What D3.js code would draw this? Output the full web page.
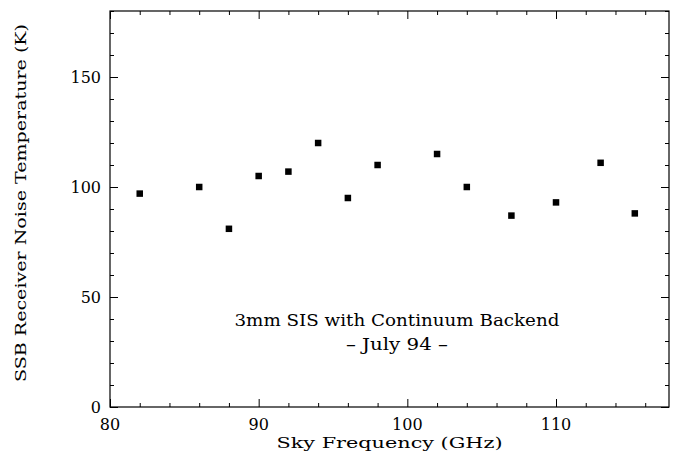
<!DOCTYPE html>
<html>
<head>
<meta charset="utf-8">
<script src="https://cdn.jsdelivr.net/npm/d3@7"></script>
<style>
  body { margin: 0; background: #fff; }
  text { font-family: "DejaVu Serif", serif; fill: #000; }
</style>
</head>
<body>
<svg id="chart" width="678" height="453"></svg>
<script>
// sky frequency (GHz) and SSB receiver noise temperature (K)
const freqs = [82, 86, 88, 90, 92, 94, 96, 98, 102, 104, 107, 110, 113, 115.3];
const temps = [97, 100, 81, 105, 107, 120, 95, 110, 115, 100, 87, 93, 111, 88];
const xTicks = [80, 90, 100, 110];
const yTicks = [0, 50, 100, 150];
const captionLines = ["3mm SIS with Continuum Backend", "\u2013 July 94 \u2013"];
const captionWidths = [325, 102];

const margin = { top: 11, right: 9, bottom: 46, left: 110 };
const width = 678 - margin.left - margin.right;
const height = 453 - margin.top - margin.bottom;

const svg = d3.select('#chart');
const g = svg.append('g')
  .attr('transform', `translate(${margin.left}, ${margin.top})`);

const x = d3.scaleLinear().domain([80, 117.6]).range([0, width]);
const y = d3.scaleLinear().domain([0, 180]).range([height, 0]);

const minorX = d3.range(80, 118, 2);
const minorY = d3.range(0, 181, 10);

// frame
g.append('rect')
  .attr('width', width)
  .attr('height', height)
  .attr('fill', 'none')
  .attr('stroke', '#000')
  .attr('stroke-width', 1.2);

// inward ticks on all four sides
function tickSet(axisFn, scale, values, len, tr) {
  const a = g.append('g')
    .attr('transform', tr)
    .call(axisFn(scale).tickValues(values).tickSize(len).tickFormat(''));
  a.select('.domain').remove();
  a.selectAll('line').attr('stroke', '#000').attr('stroke-width', 1);
}
const majX = xTicks, majY = yTicks;
tickSet(d3.axisTop, x, minorX.filter(v => !majX.includes(v)), 4, `translate(0, ${height})`);
tickSet(d3.axisTop, x, majX, 8, `translate(0, ${height})`);
tickSet(d3.axisBottom, x, minorX.filter(v => !majX.includes(v)), 4, 'translate(0, 0)');
tickSet(d3.axisBottom, x, majX, 8, 'translate(0, 0)');
tickSet(d3.axisRight, y, minorY.filter(v => !majY.includes(v)), 4, 'translate(0, 0)');
tickSet(d3.axisRight, y, majY, 8, 'translate(0, 0)');
tickSet(d3.axisLeft, y, minorY.filter(v => !majY.includes(v)), 4, `translate(${width}, 0)`);
tickSet(d3.axisLeft, y, majY, 8, `translate(${width}, 0)`);

// tick labels
g.selectAll('.xlab')
  .data(xTicks)
  .enter()
  .append('text')
  .attr('x', d => x(d))
  .attr('y', height + 23)
  .attr('text-anchor', 'middle')
  .attr('font-size', 16)
  .text(d => d);

g.selectAll('.ylab')
  .data(yTicks)
  .enter()
  .append('text')
  .attr('x', -9)
  .attr('y', d => y(d) + 6)
  .attr('text-anchor', 'end')
  .attr('font-size', 16)
  .text(d => d);

// axis titles
g.append('text')
  .attr('x', width / 2)
  .attr('y', height + 41)
  .attr('text-anchor', 'middle')
  .attr('font-size', 15.5)
  .attr('textLength', 226)
  .attr('lengthAdjust', 'spacingAndGlyphs')
  .text('Sky Frequency (GHz)');

svg.append('text')
  .attr('transform', `translate(26, ${margin.top + height / 2 - 6}) rotate(-90)`)
  .attr('text-anchor', 'middle')
  .attr('font-size', 15.5)
  .attr('textLength', 358)
  .attr('lengthAdjust', 'spacingAndGlyphs')
  .text('SSB Receiver Noise Temperature (K)');

// data points
const sz = 6.5;
g.selectAll('rect.pt')
  .data(freqs.map((f, i) => ({ f, t: temps[i] })))
  .enter()
  .append('rect')
  .attr('class', 'pt')
  .attr('x', d => x(d.f) - sz / 2)
  .attr('y', d => y(d.t) - sz / 2)
  .attr('width', sz)
  .attr('height', sz)
  .attr('fill', '#000');

// caption
g.selectAll('.cap')
  .data(captionLines)
  .enter()
  .append('text')
  .attr('x', x(99.3))
  .attr('y', (d, i) => 315 + i * 24)
  .attr('text-anchor', 'middle')
  .attr('font-size', 16)
  .attr('textLength', (d, i) => captionWidths[i])
  .attr('lengthAdjust', 'spacingAndGlyphs')
  .text(d => d);
</script>
</body>
</html>
